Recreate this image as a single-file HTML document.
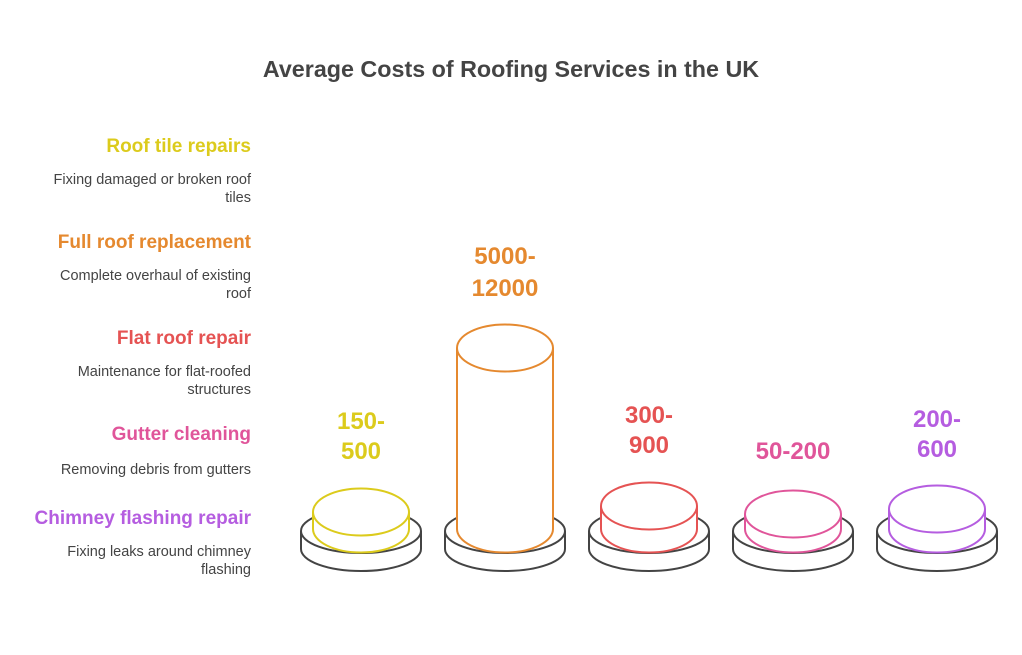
<!DOCTYPE html>
<html><head><meta charset="utf-8"><style>
body{margin:0;background:#fff;}
svg text{font-family:"Liberation Sans",sans-serif;}
</style></head><body>
<svg width="1022" height="650" viewBox="0 0 1022 650" xmlns="http://www.w3.org/2000/svg">
<rect width="1022" height="650" fill="#fff"/>
<text x="511" y="77" text-anchor="middle" font-size="23.3" font-weight="bold" fill="#444">Average Costs of Roofing Services in the UK</text>
<g text-anchor="end">
<text x="251" y="152" font-size="19" font-weight="bold" fill="#dccb1c">Roof tile repairs</text>
<text x="251" y="184" font-size="14.5" fill="#444">Fixing damaged or broken roof</text>
<text x="251" y="202" font-size="14.5" fill="#444">tiles</text>
<text x="251" y="248" font-size="19" font-weight="bold" fill="#e5892f">Full roof replacement</text>
<text x="251" y="280" font-size="14.5" fill="#444">Complete overhaul of existing</text>
<text x="251" y="298" font-size="14.5" fill="#444">roof</text>
<text x="251" y="344" font-size="19" font-weight="bold" fill="#e55353">Flat roof repair</text>
<text x="251" y="376" font-size="14.5" fill="#444">Maintenance for flat-roofed</text>
<text x="251" y="394" font-size="14.5" fill="#444">structures</text>
<text x="251" y="440" font-size="19" font-weight="bold" fill="#e0559a">Gutter cleaning</text>
<text x="251" y="474" font-size="14.5" fill="#444">Removing debris from gutters</text>
<text x="251" y="524" font-size="19" font-weight="bold" fill="#b55de0">Chimney flashing repair</text>
<text x="251" y="556" font-size="14.5" fill="#444">Fixing leaks around chimney</text>
<text x="251" y="574" font-size="14.5" fill="#444">flashing</text>
</g>
<g stroke-width="2" fill="#fff">
<g stroke="#444">
<path d="M301 531 v18 a60 22 0 0 0 120 0 v-18"/><ellipse cx="361" cy="531" rx="60" ry="22"/>
<path d="M445 531 v18 a60 22 0 0 0 120 0 v-18"/><ellipse cx="505" cy="531" rx="60" ry="22"/>
<path d="M589 531 v18 a60 22 0 0 0 120 0 v-18"/><ellipse cx="649" cy="531" rx="60" ry="22"/>
<path d="M733 531 v18 a60 22 0 0 0 120 0 v-18"/><ellipse cx="793" cy="531" rx="60" ry="22"/>
<path d="M877 531 v18 a60 22 0 0 0 120 0 v-18"/><ellipse cx="937" cy="531" rx="60" ry="22"/>
</g>
<g stroke="#dccb1c"><path d="M313 512 V529 a48 23.5 0 0 0 96 0 V512"/><ellipse cx="361" cy="512" rx="48" ry="23.5"/></g>
<g stroke="#e5892f"><path d="M457 348 V529 a48 23.5 0 0 0 96 0 V348"/><ellipse cx="505" cy="348" rx="48" ry="23.5"/></g>
<g stroke="#e55353"><path d="M601 506 V529 a48 23.5 0 0 0 96 0 V506"/><ellipse cx="649" cy="506" rx="48" ry="23.5"/></g>
<g stroke="#e0559a"><path d="M745 514 V529 a48 23.5 0 0 0 96 0 V514"/><ellipse cx="793" cy="514" rx="48" ry="23.5"/></g>
<g stroke="#b55de0"><path d="M889 509 V529 a48 23.5 0 0 0 96 0 V509"/><ellipse cx="937" cy="509" rx="48" ry="23.5"/></g>
</g>
<g text-anchor="middle" font-size="24" font-weight="bold">
<text x="361" y="429" fill="#dccb1c">150-</text><text x="361" y="459" fill="#dccb1c">500</text>
<text x="505" y="264" fill="#e5892f">5000-</text><text x="505" y="296" fill="#e5892f">12000</text>
<text x="649" y="423" fill="#e55353">300-</text><text x="649" y="453" fill="#e55353">900</text>
<text x="793" y="459" fill="#e0559a">50-200</text>
<text x="937" y="427" fill="#b55de0">200-</text><text x="937" y="457" fill="#b55de0">600</text>
</g>
</svg>
</body></html>
